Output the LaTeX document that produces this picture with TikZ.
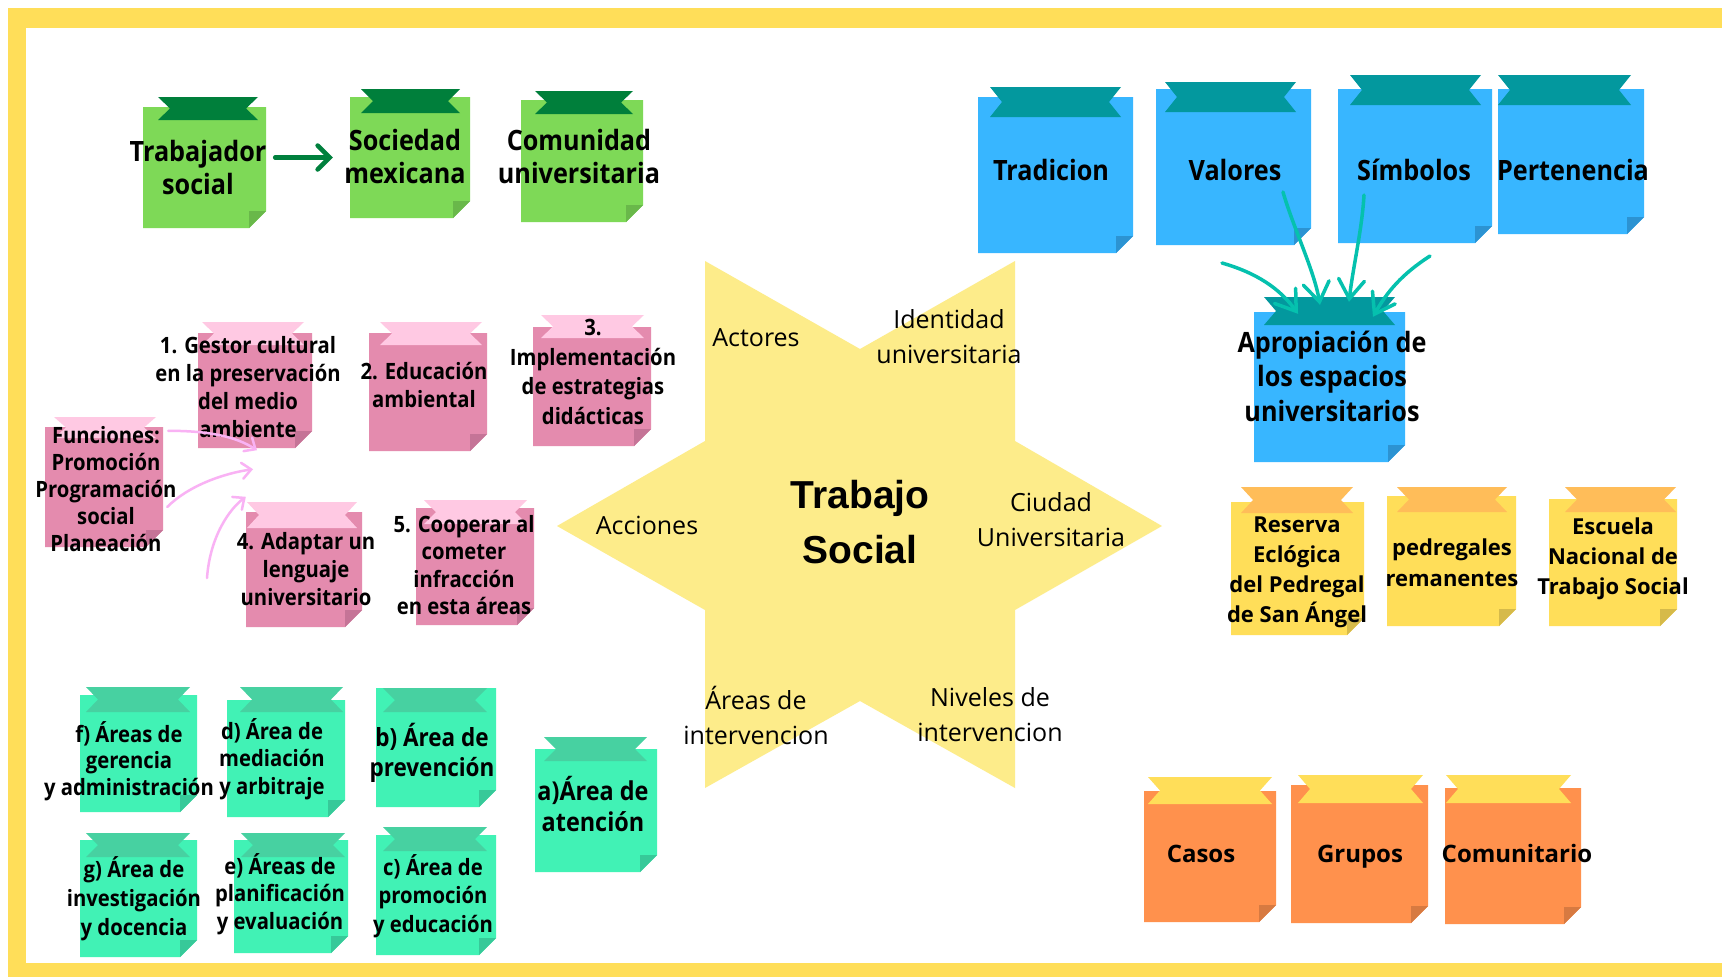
\documentclass[tikz,border=0pt]{standalone}
\usepackage{fontspec}
\setmainfont{Open Sans}
\newfontfamily\condf[FakeStretch=0.9]{Open Sans}
\newfontfamily\arialf{Liberation Sans}
\usetikzlibrary{arrows.meta}
\definecolor{framey}{HTML}{FFDE59}
\definecolor{starc}{HTML}{FDEC8A}
\definecolor{gbody}{HTML}{7ED957}
\definecolor{gtape}{HTML}{007F3B}
\definecolor{gfold}{HTML}{69B84A}
\definecolor{bbody}{HTML}{38B6FF}
\definecolor{btape}{HTML}{03989E}
\definecolor{bfold}{HTML}{2C93D2}
\definecolor{pbody}{HTML}{E48BAE}
\definecolor{ptape}{HTML}{FFC9E3}
\definecolor{pfold}{HTML}{C57497}
\definecolor{mbody}{HTML}{41F2B5}
\definecolor{mtape}{HTML}{47D1A1}
\definecolor{mfold}{HTML}{37C999}
\definecolor{ybody}{HTML}{FFDE59}
\definecolor{ytape}{HTML}{FFBD59}
\definecolor{yfold}{HTML}{D6BA4A}
\definecolor{obody}{HTML}{FF914D}
\definecolor{otape}{HTML}{FFDE59}
\definecolor{ofold}{HTML}{D77A41}
\definecolor{tealarrow}{HTML}{05C1AE}
\definecolor{pinkarrow}{HTML}{F9B2F4}
\definecolor{darkgreen}{HTML}{00803D}
% sticky note: name, x1, y1, x2, y2, tape x1, tape y1, tape x2, tape y2
\newcommand\snote[9]{%
  \fill[nbody] (#2,#3) -- (#4,#3) -- (#4,#5-17) -- (#4-17,#5) -- (#2,#5) -- cycle;
  \fill[nfold] (#4,#5-17) -- (#4-17,#5) -- (#4-17,#5-17) -- cycle;
  \fill[ntape] (#6,#7) -- (#8,#7) -- (#8-12,{(#7+#9)/2}) -- (#8,#9) -- (#6,#9)
     -- (#6+12,{(#7+#9)/2}) -- cycle;
  \node[inner sep=0, minimum width={(#4-#2)*1pt}, minimum height={(#5-#3)*1pt}]
     (#1) at ({(#2+#4)/2},{(#3+#5)/2}) {};
}
\newcommand\usecolors[3]{\colorlet{nbody}{#1}\colorlet{ntape}{#2}\colorlet{nfold}{#3}}
\tikzset{
  bigtxt/.style={inner sep=0, align=center, font=\condf\bfseries\fontsize{28}{33}\selectfont},
  smalltxt/.style={inner sep=0, align=center, font=\condf\bfseries\fontsize{22.5}{28}\selectfont},
  widetxt/.style={inner sep=0, align=center, font=\bfseries\fontsize{22}{30}\selectfont},
  orangetxt/.style={inner sep=0, anchor=base, font=\bfseries\fontsize{24}{30}\selectfont},
  startxt/.style={inner sep=0, align=center, font=\fontsize{25}{35}\selectfont},
  titletxt/.style={inner sep=0, align=center, font=\arialf\bfseries\fontsize{39}{55}\selectfont},
  garrow/.style={draw=darkgreen, line width=4.5pt, line cap=round,
     -{Straight Barb[length=12pt,width=24pt,line cap=round]}},
  tarrow/.style={draw=tealarrow, line width=3.5pt, line cap=round,
     -{Straight Barb[length=19pt,width=26pt,line cap=round]}},
  parrow/.style={draw=pinkarrow, line width=2.5pt, line cap=round,
     -{Straight Barb[length=9pt,width=16pt,line cap=round]}},
}
\begin{document}
\begin{tikzpicture}[x=1pt,y=-1pt]
\useasboundingbox (0,0) rectangle (1722,978);
% frame
\fill[white] (0,0) rectangle (1722,978);
\fill[framey] (8,8) rectangle (1722,977);
\fill[white] (26,28) rectangle (1722,963);
% star
\fill[starc] (705,261) -- (860,349) -- (1015,261) -- (1015,441) -- (1162,526)
  -- (1015,610) -- (1015,788) -- (860,701) -- (705,788) -- (705,610)
  -- (557,526) -- (705,441) -- cycle;
\node[titletxt] (title) at (860,522) {Trabajo\\Social};
\node[startxt] (act) at (756,338) {Actores};
\node[startxt] (ide) at (949,337) {Identidad\\universitaria};
\node[startxt] (acc) at (647,525) {Acciones};
\node[startxt] (ciu) at (1051,520) {Ciudad\\Universitaria};
\node[startxt] (are) at (756,715) {Áreas de\\intervencion};
\node[startxt] (niv) at (990,715) {Niveles de\\intervencion};
% green top
\usecolors{gbody}{gtape}{gfold}
\snote{trab}{143}{107}{266}{228}{158}{97}{258}{120}
\snote{soc}{350}{97}{470}{218}{361}{89}{460}{113}
\snote{com}{521}{100}{643}{222}{535}{91}{633}{114}
\node[bigtxt] (trabT) at (198,167) {Trabajador\\social};
\node[bigtxt] (socT) at (405,156) {Sociedad\\mexicana};
\node[bigtxt] (comT) at (579,156) {Comunidad\\universitaria};
% blue
\usecolors{bbody}{btape}{bfold}
\snote{trad}{978}{97}{1133}{253}{990}{87}{1121}{117}
\snote{val}{1156}{89}{1311}{245}{1165}{82}{1296}{112}
\snote{sim}{1338}{89}{1492}{243}{1350}{75}{1481}{105}
\snote{per}{1498}{89}{1644}{234}{1498}{75}{1631}{105}
\snote{apr}{1254}{312}{1405}{462}{1264}{297}{1395}{325}
\node[bigtxt] (tradT) at (1051,170) {Tradicion};
\node[bigtxt] (valT) at (1235,170) {Valores};
\node[bigtxt] (simT) at (1414,170) {Símbolos};
\node[bigtxt] (perT) at (1573,170) {Pertenencia};
\node[bigtxt, font=\condf\bfseries\fontsize{28}{34.5}\selectfont] (aprT) at (1332,376) {Apropiación de\\los espacios\\universitarios};
% pink
\usecolors{pbody}{ptape}{pfold}
\snote{ges}{198}{333}{312}{448}{202}{322}{304}{345}
\snote{edu}{369}{333}{487}{451}{380}{322}{482}{345}
\snote{imp}{533}{327}{651}{446}{541}{315}{644}{338}
\snote{fun}{45}{427}{163}{547}{54}{417}{156}{438}
\snote{ada}{246}{512}{362}{627}{247}{502}{357}{528}
\snote{coo}{416}{508}{534}{625}{424}{500}{527}{524}
\node[smalltxt] (gesT) at (248,387) {1. Gestor cultural\\en la preservación\\del medio\\ambiente};
\node[smalltxt] (eduT) at (424,385) {2. Educación\\ambiental};
\node[smalltxt, font=\condf\bfseries\fontsize{22.5}{29.7}\selectfont] (impT) at (593,372) {3.\\Implementación\\de estrategias\\didácticas};
\node[smalltxt, font=\condf\bfseries\fontsize{22.5}{27}\selectfont] (funT) at (106,489) {Funciones:\\Promoción\\Programación\\social\\Planeación};
\node[smalltxt] (adaT) at (306,569) {4. Adaptar un\\lenguaje\\universitario};
\node[smalltxt, font=\condf\bfseries\fontsize{22.5}{27.3}\selectfont] (cooT) at (464,565) {5. Cooperar al\\cometer\\infracción\\en esta áreas};
% mint
\usecolors{mbody}{mtape}{mfold}
\snote{fge}{80}{695}{197}{812}{86}{687}{190}{712}
\snote{dme}{227}{700}{345}{817}{240}{687}{343}{712}
\snote{bpr}{376}{688}{496}{807}{383}{688}{487}{712}
\snote{aat}{535}{749}{657}{872}{544}{737}{647}{761}
\snote{gin}{80}{840}{197}{957}{86}{833}{190}{857}
\snote{epl}{234}{840}{348}{953}{241}{833}{345}{857}
\snote{cpr}{376}{835}{496}{955}{383}{827}{487}{851}
\node[smalltxt, font=\condf\bfseries\fontsize{22.5}{26.5}\selectfont] (fgeT) at (129,761) {f) Áreas de\\gerencia\\y administración};
\node[smalltxt, font=\condf\bfseries\fontsize{22.5}{27.5}\selectfont] (dmeT) at (272,759) {d) Área de\\mediación\\y arbitraje};
\node[smalltxt, font=\condf\bfseries\fontsize{25}{30}\selectfont] (bprT) at (432,753) {b) Área de\\prevención};
\node[smalltxt, font=\condf\bfseries\fontsize{26}{31}\selectfont] (aatT) at (593,804) {a)Área de\\atención};
\node[smalltxt, font=\condf\bfseries\fontsize{22.5}{29}\selectfont] (ginT) at (134,899) {g) Área de\\investigación\\y docencia};
\node[smalltxt, font=\condf\bfseries\fontsize{22.5}{27.5}\selectfont] (eplT) at (280,894) {e) Áreas de\\planificación\\y evaluación};
\node[smalltxt, font=\condf\bfseries\fontsize{22.5}{28.5}\selectfont] (cprT) at (433,896) {c) Área de\\promoción\\y educación};
% yellow
\usecolors{ybody}{ytape}{yfold}
\snote{res}{1231}{502}{1364}{635}{1241}{487}{1353}{513}
\snote{ped}{1387}{496}{1516}{626}{1397}{487}{1507}{512}
\snote{esc}{1549}{499}{1677}{626}{1565}{487}{1676}{512}
\node[widetxt] (resT) at (1297,572) {Reserva\\Eclógica\\del Pedregal\\de San Ángel};
\node[widetxt, font=\bfseries\fontsize{22}{31}\selectfont] (pedT) at (1452,563) {pedregales\\remanentes};
\node[widetxt] (escT) at (1613,559) {Escuela\\Nacional de\\Trabajo Social};
% orange
\usecolors{obody}{otape}{ofold}
\snote{cas}{1144}{791}{1276}{922}{1148}{777}{1272}{804}
\snote{gru}{1291}{785}{1428}{923}{1298}{775}{1423}{803}
\snote{cmt}{1445}{788}{1581}{924}{1446}{775}{1571}{803}
\node[orangetxt] (casT) at (1201,862) {Casos};
\node[orangetxt] (gruT) at (1360,862) {Grupos};
\node[orangetxt] (cmtT) at (1517,862) {Comunitario};
% arrows
\draw[garrow] ([xshift=9pt,yshift=10pt]trab.east) -- ([xshift=-17pt]soc.west);
\coordinate (t1) at (1222,263);
\coordinate (t4) at (1430,256);
\draw[tarrow] (t1) .. controls +(35,10) and +(-18,-25) .. ([xshift=-31.5pt,yshift=-2pt]apr.north);
\draw[tarrow] ([xshift=49.5pt,yshift=-25pt]val.center) .. controls +(10,35) and +(-6,-35) .. ([xshift=-9.5pt,yshift=7pt]apr.north);
\draw[tarrow] ([xshift=-51pt,yshift=-29pt]sim.center) .. controls +(-2,35) and +(4,-35) .. ([xshift=19.5pt,yshift=10pt]apr.north);
\draw[tarrow] (t4) .. controls +(-28,18) and +(14,-25) .. ([xshift=43.5pt,yshift=-5pt]apr.north);
\coordinate (p3) at (207,578);
\draw[parrow] ([xshift=5pt,yshift=-4pt]fun.north east) .. controls +(40,0) and +(-22,-14) .. ([xshift=2pt,yshift=-2pt]ges.south);
\draw[parrow] ([xshift=4pt,yshift=-20pt]fun.east) .. controls +(22,-22) and +(-28,4) .. ([xshift=-2pt,yshift=-21pt]ges.south);
\draw[parrow] (p3) .. controls +(3,-42) and +(-16,12) .. ([yshift=15pt]ada.north west);
\end{tikzpicture}
\end{document}
